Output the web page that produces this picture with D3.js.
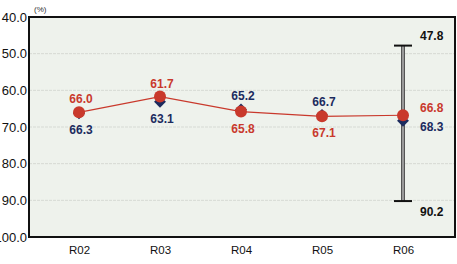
<!DOCTYPE html>
<html><head><meta charset="utf-8">
<script src="https://cdn.jsdelivr.net/npm/d3@7"></script>
<style>body{margin:0;background:#fff;} svg{display:block;font-family:"Liberation Sans",Arial,sans-serif;}</style>
</head><body>
<svg id="c" width="457" height="264"></svg>
<script>
const categories = ["R02","R03","R04","R05","R06"];
const redValues = [66.0, 61.7, 65.8, 67.1, 66.8];
const blueValues = [66.3, 63.1, 65.2, 66.7, 68.3];
const yTicks = [40, 50, 60, 70, 80, 90, 100];
const rangeCategory = "R06";
const rangeMin = 47.8, rangeMax = 90.2;
// label placement: "up", "down", "right", "rightdown"
const redLabelPos = ["up","up","down","down","right"];
const blueLabelPos = ["down","down","up","up","rightdown"];

(function(){
const svg = d3.select("#c");
const pL = 29, pR = 455, pT = 17, pB = 237;
const x = d3.scalePoint().domain(categories).range([79, 403]);
const y = d3.scaleLinear().domain([40, 100]).range([pT, pB]);
const red = "#c9392c", blue = "#1b2b5e";

svg.append("rect").attr("x", pL).attr("y", pT).attr("width", pR-pL).attr("height", pB-pT)
  .attr("fill", "#eef2ec");
svg.append("g").selectAll("line").data(yTicks.slice(1,-1)).join("line")
  .attr("x1", pL).attr("x2", pR).attr("y1", d=>y(d)).attr("y2", d=>y(d))
  .attr("stroke", "#d6dad4").attr("stroke-width", 1).attr("stroke-dasharray","3,1");
svg.append("rect").attr("x", pL).attr("y", pT).attr("width", pR-pL).attr("height", pB-pT)
  .attr("fill", "none").attr("stroke", "#111").attr("stroke-width", 2);

const yAxis = d3.axisLeft(y).tickValues(yTicks).tickFormat(d3.format(".1f")).tickSize(0).tickPadding(2);
const ya = svg.append("g").attr("transform", `translate(${pL},0)`).call(yAxis);
ya.select(".domain").remove();
ya.selectAll("text").attr("font-size", 13).attr("fill", "#111").attr("font-family", "Liberation Sans, Arial, sans-serif");
svg.append("text").attr("x", 34).attr("y", 12).attr("font-size", 8).attr("fill", "#333").text("(%)");

const xAxis = d3.axisBottom(x).tickSize(0).tickPadding(9);
const xa = svg.append("g").attr("transform", `translate(0,${pB})`).call(xAxis);
xa.select(".domain").remove();
xa.selectAll("text").attr("font-size", 11.5).attr("fill", "#111").attr("font-family", "Liberation Sans, Arial, sans-serif");

const rx = x(rangeCategory);
svg.append("line").attr("x1", rx).attr("x2", rx).attr("y1", y(rangeMin)).attr("y2", y(rangeMax))
  .attr("stroke", "#555").attr("stroke-width", 4);
svg.append("line").attr("x1", rx).attr("x2", rx).attr("y1", y(rangeMin)).attr("y2", y(rangeMax))
  .attr("stroke", "#999").attr("stroke-width", 2);
[rangeMin, rangeMax].forEach(v => {
  svg.append("line").attr("x1", rx-9).attr("x2", rx+9).attr("y1", y(v)).attr("y2", y(v))
    .attr("stroke", "#111").attr("stroke-width", 2);
});
svg.append("text").attr("x", 420).attr("y", y(rangeMin)-6).attr("font-size", 12).attr("font-weight", "bold")
  .attr("fill", "#111").text(rangeMin.toFixed(1));
svg.append("text").attr("x", 420).attr("y", y(rangeMax)+15).attr("font-size", 12).attr("font-weight", "bold")
  .attr("fill", "#111").text(rangeMax.toFixed(1));

svg.append("g").selectAll("path").data(blueValues).join("path")
  .attr("d", d3.symbol().type(d3.symbolDiamond2).size(90))
  .attr("transform", (d,i)=>`translate(${x(categories[i])},${y(d)})`)
  .attr("fill", blue);

const line = d3.line().x((d,i)=>x(categories[i])).y(d=>y(d));
svg.append("path").datum(redValues).attr("d", line).attr("fill","none").attr("stroke", red).attr("stroke-width", 1.2);
svg.append("g").selectAll("circle").data(redValues).join("circle")
  .attr("cx", (d,i)=>x(categories[i])).attr("cy", d=>y(d)).attr("r", 6).attr("fill", red);

function label(vals, pos, color) {
  svg.append("g").selectAll("text").data(vals).join("text")
    .attr("x", (d,i)=> pos[i].startsWith("right") ? 420 : x(categories[i]) + 2)
    .attr("y", (d,i)=> {
      const p = pos[i], cy = y(d);
      if (p === "up") return cy - 9;
      if (p === "down") return cy + 21;
      if (p === "right") return cy - 3;
      return cy + 10;
    })
    .attr("text-anchor", (d,i)=> pos[i].startsWith("right") ? "start" : "middle")
    .attr("font-size", 12).attr("font-weight", "bold").attr("fill", color)
    .text(d=>d.toFixed(1));
}
label(redValues, redLabelPos, red);
label(blueValues, blueLabelPos, blue);
})();
</script>
</body></html>
